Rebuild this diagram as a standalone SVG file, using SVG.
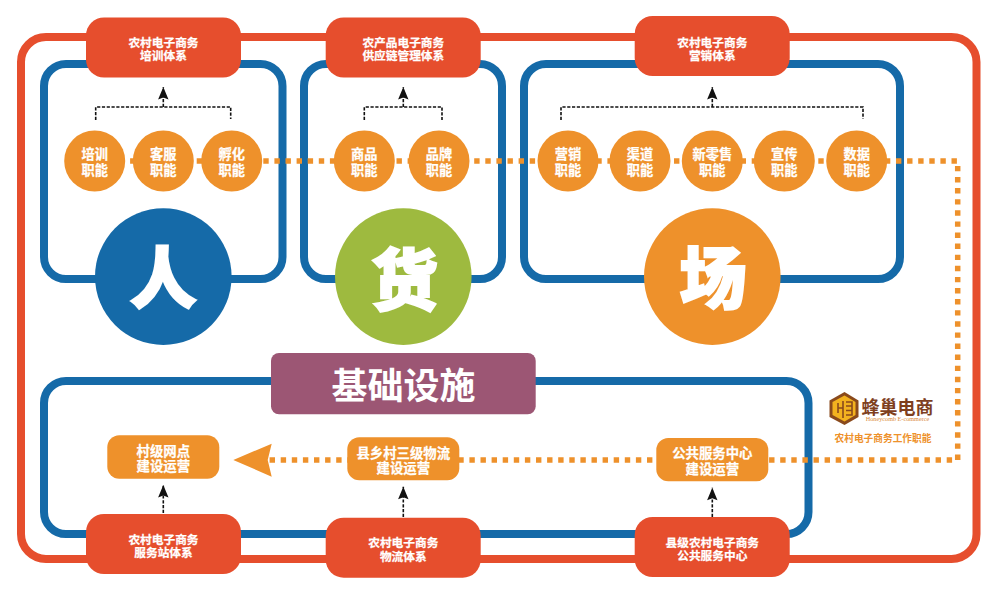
<svg xmlns="http://www.w3.org/2000/svg" width="1000" height="599" viewBox="0 0 1000 599">
<style>
text{font-family:"Noto Sans CJK SC","Noto Sans",sans-serif;font-weight:700;fill:#fff;text-anchor:middle;dominant-baseline:central}
.frame{fill:none;stroke:#156AA8;stroke-width:8}
.outer{fill:none;stroke:#E64E2D;stroke-width:8}
.red{fill:#E64E2D}
.org{fill:#EE912B}
.dots{fill:none;stroke:#EE912B;stroke-width:5.5;stroke-dasharray:5.4,5.7}
.blk{fill:none;stroke:#111;stroke-width:1.6;stroke-dasharray:3.2,1.6}
.t-red{font-size:11.7px;stroke:#fff;stroke-width:.25}
.t-cir{font-size:13.2px;stroke:#fff;stroke-width:.25}
.t-box{font-size:13.4px;stroke:#fff;stroke-width:.25}
.t-big{font-size:67px;font-weight:900;stroke:#fff;stroke-width:2}
</style>
<defs>
<marker id="ah" markerUnits="userSpaceOnUse" markerWidth="12" markerHeight="14" refX="6" refY="0" orient="0" overflow="visible">
<path d="M6 0L11.2 12.5L6 10.5L.8 12.5Z" fill="#111"/>
</marker>
</defs>
<rect width="1000" height="599" fill="#fff"/>
<g id="frames">
<rect class="outer" x="21" y="37" width="955.5" height="522" rx="25"/>
<rect class="frame" x="44" y="64" width="238.5" height="215" rx="22"/>
<rect class="frame" x="304" y="64" width="198" height="215" rx="22"/>
<rect class="frame" x="524" y="64" width="376" height="215" rx="22"/>
<rect class="frame" x="44" y="381" width="764.5" height="153" rx="22"/>
</g>
<g id="connectors">
<path class="dots" d="M96.8 161H957.7V460H268"/>
<path class="org" d="M233.3 460L271.7 443.7L267.7 460L271.7 476.7Z"/>
<path class="blk" d="M95.7 120V107H230.7V119"/>
<path class="blk" d="M163.3 107V87" marker-end="url(#ah)"/>
<path class="blk" d="M364.3 120V107H442V120"/>
<path class="blk" d="M403.3 107V87" marker-end="url(#ah)"/>
<path class="blk" d="M561 120V107H863V119"/>
<path class="blk" d="M712.3 107V87" marker-end="url(#ah)"/>
<path class="blk" d="M163.3 513V485" marker-end="url(#ah)"/>
<path class="blk" d="M403.3 517V486.7" marker-end="url(#ah)"/>
<path class="blk" d="M712.3 517V487.7" marker-end="url(#ah)"/>
</g>
<g id="n-top1"><rect class="red" x="86" y="17.5" width="155" height="60" rx="18"/><text class="t-red" x="163.5" y="41">农村电子商务</text><text class="t-red" x="163.5" y="54.700">培训体系</text></g>
<g id="n-top2"><rect class="red" x="325.700" y="17.500" width="155" height="60" rx="18"/><text class="t-red" x="403.300" y="41">农产品电子商务</text><text class="t-red" x="403.300" y="54.700">供应链管理体系</text></g>
<g id="n-top3"><rect class="red" x="634.700" y="16" width="155" height="60" rx="18"/><text class="t-red" x="712.300" y="41">农村电子商务</text><text class="t-red" x="712.300" y="54.700">营销体系</text></g>
<g id="n-peixun"><circle class="org" cx="94.700" cy="161" r="30.500"/><text class="t-cir" x="94.700" y="153">培训</text><text class="t-cir" x="94.700" y="169">职能</text></g>
<g id="n-kefu"><circle class="org" cx="163.300" cy="161" r="30.500"/><text class="t-cir" x="163.300" y="153">客服</text><text class="t-cir" x="163.300" y="169">职能</text></g>
<g id="n-fuhua"><circle class="org" cx="231.700" cy="161" r="30.500"/><text class="t-cir" x="231.700" y="153">孵化</text><text class="t-cir" x="231.700" y="169">职能</text></g>
<g id="n-shangpin"><circle class="org" cx="364.300" cy="161" r="30.500"/><text class="t-cir" x="364.300" y="153">商品</text><text class="t-cir" x="364.300" y="169">职能</text></g>
<g id="n-pinpai"><circle class="org" cx="439" cy="161" r="30.500"/><text class="t-cir" x="439" y="153">品牌</text><text class="t-cir" x="439" y="169">职能</text></g>
<g id="n-yingxiao"><circle class="org" cx="568" cy="161" r="30.500"/><text class="t-cir" x="568" y="153">营销</text><text class="t-cir" x="568" y="169">职能</text></g>
<g id="n-qudao"><circle class="org" cx="640" cy="161" r="30.500"/><text class="t-cir" x="640" y="153">渠道</text><text class="t-cir" x="640" y="169">职能</text></g>
<g id="n-xinlingshou"><circle class="org" cx="712.300" cy="161" r="30.500"/><text class="t-cir" x="712.300" y="153">新零售</text><text class="t-cir" x="712.300" y="169">职能</text></g>
<g id="n-xuanchuan"><circle class="org" cx="784.300" cy="161" r="30.500"/><text class="t-cir" x="784.300" y="153">宣传</text><text class="t-cir" x="784.300" y="169">职能</text></g>
<g id="n-shuju"><circle class="org" cx="856.700" cy="161" r="30.500"/><text class="t-cir" x="856.700" y="153">数据</text><text class="t-cir" x="856.700" y="169">职能</text></g>
<g id="n-ren"><circle cx="163.300" cy="276.600" r="68.300" fill="#156AA8"/><text class="t-big" x="163.300" y="273">人</text></g>
<g id="n-huo"><circle cx="403.300" cy="276.600" r="68.300" fill="#9EBA3F"/><text class="t-big" x="404.500" y="275">货</text></g>
<g id="n-chang"><circle cx="712.300" cy="276.600" r="68.300" fill="#EE912B"/><text class="t-big" x="713" y="273">场</text></g>
<g id="n-jichu"><rect x="271" y="353" width="264.700" height="61.300" rx="8" fill="#9C5674"/><text x="403.500" y="383" style="font-size:36px">基础设施</text></g>
<g id="n-cun"><rect class="org" x="107.300" y="435.300" width="112" height="43.400" rx="12"/><text class="t-box" x="163.300" y="449.500">村级网点</text><text class="t-box" x="163.300" y="465.300">建设运营</text></g>
<g id="n-xian"><rect class="org" x="347.300" y="437.300" width="112" height="43" rx="12"/><text class="t-box" x="403.300" y="451.700">县乡村三级物流</text><text class="t-box" x="403.300" y="467">建设运营</text></g>
<g id="n-gonggong"><rect class="org" x="656.300" y="438" width="112" height="43.300" rx="12"/><text class="t-box" x="712.300" y="452.300">公共服务中心</text><text class="t-box" x="712.300" y="468.300">建设运营</text></g>
<g id="n-bot1"><rect class="red" x="86" y="514" width="155" height="60" rx="18"/><text class="t-red" x="163.500" y="538">农村电子商务</text><text class="t-red" x="163.500" y="551.500">服务站体系</text></g>
<g id="n-bot2"><rect class="red" x="325.700" y="517.700" width="155" height="60" rx="18"/><text class="t-red" x="403.300" y="541.500">农村电子商务</text><text class="t-red" x="403.300" y="555">物流体系</text></g>
<g id="n-bot3"><rect class="red" x="634.700" y="517" width="155" height="60" rx="18"/><text class="t-red" x="712.300" y="541">县级农村电子商务</text><text class="t-red" x="712.300" y="554.500">公共服务中心</text></g>
<g id="logo">
<path d="M844.500 392L858.500 400.500V417L844.500 425L829.500 417V400.500Z" fill="#8A4A1C"/>
<path d="M844.500 395.500L855.500 402V415L844.500 421.500L832.500 415V402Z" fill="#F3B21F"/>
<path d="M838 403V413M838 408H843M843 401V418M846 402H852V415H846M846 406H852M846 410.500H852" fill="none" stroke="#8A4A1C" stroke-width="1.600"/>
<text x="897.500" y="405.500" style="font-size:18px;fill:#7E3F1E">蜂巢电商</text>
<text x="897.500" y="418.500" style="font-family:'Liberation Serif',serif;font-size:6.200px;fill:#D98A3A;font-weight:400">Honeycomb E-commerce</text>
<text x="883" y="437.500" style="font-size:9.700px;fill:#EE912B">农村电子商务工作职能</text>
</g>
</svg>
